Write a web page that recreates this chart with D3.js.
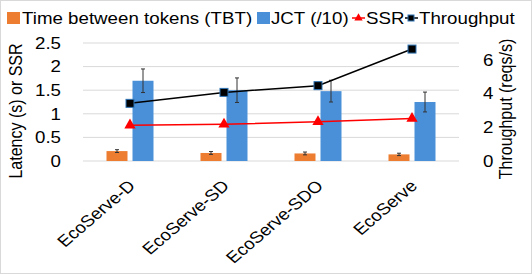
<!DOCTYPE html>
<html>
<head>
<meta charset="utf-8">
<script src="https://cdn.jsdelivr.net/npm/d3@7"></script>
<style>
  body { margin: 0; background: #fff; }
  text { font-family: "Liberation Sans", Arial, sans-serif; fill: #000; }
</style>
</head>
<body>
<div id="chart"></div>
<script>
const categories = ["EcoServe-D", "EcoServe-SD", "EcoServe-SDO", "EcoServe"];
const tbt = [0.21, 0.17, 0.16, 0.14];
const tbtErr = [0.03, 0.03, 0.03, 0.025];
const jct = [1.70, 1.50, 1.48, 1.25];
const jctErr = [0.25, 0.26, 0.23, 0.21];
const ssr = [0.76, 0.78, 0.83, 0.90];
const throughput = [3.42, 4.07, 4.47, 6.64];
const leftTicks = [0, 0.5, 1, 1.5, 2, 2.5];
const rightTicks = [0, 2, 4, 6];

const width = 532;
const height = 274;
const plotL = 83, plotR = 459, plotT = 43, plotB = 161;
const fs = 16;
const sx = 1.17; // the source picture is stretched sideways

const svg = d3.select("#chart").append("svg")
  .attr("width", width).attr("height", height);

svg.append("rect").attr("x", 0.5).attr("y", 0.5)
  .attr("width", width - 1).attr("height", height - 1)
  .attr("fill", "#fff").attr("stroke", "#d9d9d9");

const x = d3.scaleBand().domain(categories).range([plotL, plotR]);
const y = d3.scaleLinear().domain([0, 2.5]).range([plotB, plotT]);
const y2 = d3.scaleLinear().domain([0, 7]).range([plotB, plotT]);

// gridlines
svg.append("g").selectAll("line").data(leftTicks).join("line")
  .attr("x1", plotL).attr("x2", plotR)
  .attr("y1", d => y(d)).attr("y2", d => y(d))
  .attr("stroke", "#d9d9d9").attr("stroke-width", 1);

// left axis labels
svg.append("g").selectAll("text").data(leftTicks).join("text")
  .attr("transform", d => `translate(61,${y(d)}) scale(${sx},1)`)
  .attr("dy", "0.36em")
  .attr("text-anchor", "end").attr("font-size", fs)
  .text(d => d);

// right axis labels
svg.append("g").selectAll("text").data(rightTicks).join("text")
  .attr("transform", d => `translate(483,${y2(d)}) scale(${sx},1)`)
  .attr("dy", "0.36em")
  .attr("text-anchor", "start").attr("font-size", fs)
  .text(d => d);

// axis titles
svg.append("text").attr("transform", `translate(22,111) scale(${sx},1) rotate(-90)`)
  .attr("text-anchor", "middle").attr("font-size", fs)
  .text("Latency (s) or SSR");
svg.append("text").attr("transform", `translate(512,109) scale(${sx},1) rotate(-90)`)
  .attr("text-anchor", "middle").attr("font-size", fs)
  .text("Throughput (reqs/s)");

const barW = 21, gap = 5;
const cx = d => x(d) + x.bandwidth() / 2;

// bars
svg.append("g").selectAll("rect").data(categories).join("rect")
  .attr("x", d => cx(d) - gap / 2 - barW)
  .attr("y", (d, i) => y(tbt[i]))
  .attr("width", barW).attr("height", (d, i) => y(0) - y(tbt[i]))
  .attr("fill", "#ED7D31");
svg.append("g").selectAll("rect").data(categories).join("rect")
  .attr("x", d => cx(d) + gap / 2)
  .attr("y", (d, i) => y(jct[i]))
  .attr("width", barW).attr("height", (d, i) => y(0) - y(jct[i]))
  .attr("fill", "#4A90D9");

// error bars
function errBars(vals, errs, off) {
  const g = svg.append("g").attr("stroke", "#333").attr("stroke-width", 1);
  categories.forEach((c, i) => {
    const px = cx(c) + off;
    g.append("line").attr("x1", px).attr("x2", px)
      .attr("y1", y(vals[i] + errs[i])).attr("y2", y(vals[i] - errs[i]));
    [vals[i] + errs[i], vals[i] - errs[i]].forEach(v => {
      g.append("line").attr("x1", px - 2).attr("x2", px + 2)
        .attr("y1", y(v)).attr("y2", y(v));
    });
  });
}
errBars(tbt, tbtErr, -gap / 2 - barW / 2);
errBars(jct, jctErr, gap / 2 + barW / 2);

// SSR line
svg.append("path").datum(ssr)
  .attr("d", d3.line().x((d, i) => cx(categories[i])).y(d => y(d)))
  .attr("fill", "none").attr("stroke", "#FF0000").attr("stroke-width", 1.5);
svg.append("g").selectAll("path").data(ssr).join("path")
  .attr("d", d3.symbol(d3.symbolTriangle, 55))
  .attr("transform", (d, i) => `translate(${cx(categories[i])},${y(d)})`)
  .attr("fill", "#FF0000");

// Throughput line
svg.append("path").datum(throughput)
  .attr("d", d3.line().x((d, i) => cx(categories[i])).y(d => y2(d)))
  .attr("fill", "none").attr("stroke", "#000").attr("stroke-width", 1.5);
svg.append("g").selectAll("rect").data(throughput).join("rect")
  .attr("x", (d, i) => cx(categories[i]) - 4)
  .attr("y", d => y2(d) - 4)
  .attr("width", 8).attr("height", 8)
  .attr("fill", "#000").attr("stroke", "#2E75B6").attr("stroke-width", 1);

// x labels
svg.append("g").selectAll("text").data(categories).join("text")
  .attr("transform", d => `translate(${cx(d) - 3},${179}) scale(${sx},1) rotate(-45)`)
  .attr("text-anchor", "end").attr("dy", "0.7em").attr("font-size", fs)
  .text(d => d);

// legend
const legend = svg.append("g");
const ly = 18;
const legText = (lx, t) => legend.append("text")
  .attr("transform", `translate(${lx},${ly}) scale(${sx},1)`)
  .attr("dy", "0.36em").attr("font-size", fs).text(t);
legend.append("rect").attr("x", 7).attr("y", ly - 6).attr("width", 13).attr("height", 12).attr("fill", "#ED7D31");
legText(22, "Time between tokens (TBT)");
legend.append("rect").attr("x", 257).attr("y", ly - 6).attr("width", 13).attr("height", 12).attr("fill", "#4A90D9");
legText(271, "JCT (/10)");
legend.append("line").attr("x1", 352).attr("x2", 365).attr("y1", ly).attr("y2", ly).attr("stroke", "#FF0000").attr("stroke-width", 1.5);
legend.append("path").attr("d", d3.symbol(d3.symbolTriangle, 30)).attr("transform", `translate(358.5,${ly})`).attr("fill", "#FF0000");
legText(366, "SSR");
legend.append("line").attr("x1", 405).attr("x2", 418).attr("y1", ly).attr("y2", ly).attr("stroke", "#000").attr("stroke-width", 1.5);
legend.append("rect").attr("x", 408).attr("y", ly - 3).attr("width", 6).attr("height", 6).attr("fill", "#000").attr("stroke", "#2E75B6");
legText(419, "Throughput");
</script>
</body>
</html>
